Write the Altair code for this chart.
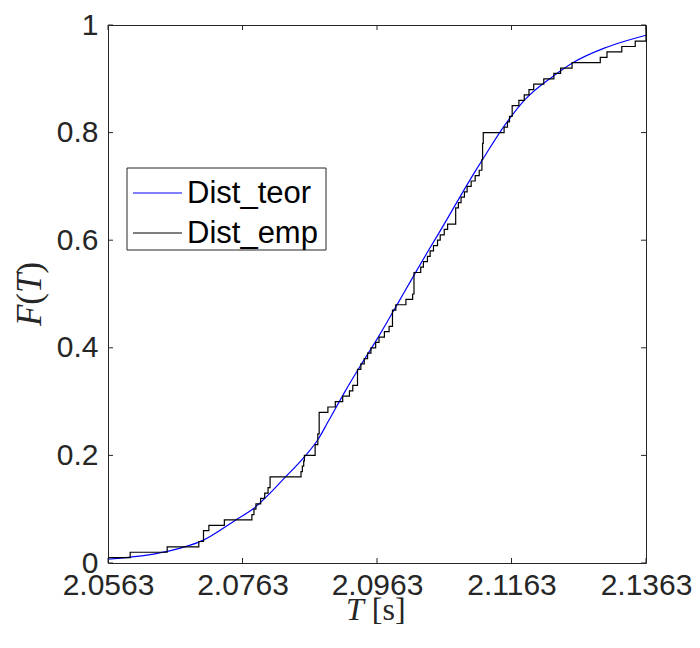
import altair as alt
import pandas as pd

emp_T = [
    2.0563, 2.0596, 2.0651, 2.0698, 2.0705, 2.0705, 2.0713, 2.0736, 2.0777, 2.0780,
    2.0783, 2.0790, 2.0796, 2.0801, 2.0804, 2.0804, 2.0850, 2.0852, 2.0854, 2.0855,
    2.0871, 2.0871, 2.0875, 2.0875, 2.0877, 2.0877, 2.0877, 2.0877, 2.0890, 2.0901,
    2.0912, 2.0922, 2.0927, 2.0934, 2.0934, 2.0934, 2.0939, 2.0944, 2.0949, 2.0954,
    2.0961, 2.0966, 2.0974, 2.0981, 2.0986, 2.0986, 2.0986, 2.0991, 2.1006, 2.1016,
    2.1018, 2.1018, 2.1018, 2.1018, 2.1028, 2.1032, 2.1038, 2.1042, 2.1047, 2.1053,
    2.1057, 2.1063, 2.1068, 2.1080, 2.1080, 2.1080, 2.1084, 2.1088, 2.1093, 2.1097,
    2.1103, 2.1109, 2.1115, 2.1119, 2.1119, 2.1120, 2.1120, 2.1120, 2.1121, 2.1121,
    2.1152, 2.1157, 2.1160, 2.1164, 2.1164, 2.1174, 2.1182, 2.1189, 2.1196, 2.1211,
    2.1226, 2.1236, 2.1253, 2.1295, 2.1305, 2.1327, 2.1347, 2.1363, 2.1363, 2.1363,
]

# Theoretical distribution, points
teor_T = [2.0563, 2.0649, 2.0704, 2.0753, 2.0778, 2.0827, 2.0857, 2.0875, 2.0890,
          2.0916, 2.0939, 2.0964, 2.0991, 2.1013, 2.1041, 2.1053, 2.1109, 2.1120,
          2.1152, 2.1182, 2.1224, 2.1253, 2.1301, 2.1324, 2.1363]
teor_F = [0.007, 0.021, 0.042, 0.080, 0.100, 0.160, 0.200, 0.229, 0.262,
          0.320, 0.368, 0.418, 0.476, 0.524, 0.584, 0.609, 0.728, 0.750,
          0.812, 0.860, 0.904, 0.929, 0.957, 0.967, 0.981]

x_ticks = [2.0563, 2.0763, 2.0963, 2.1163, 2.1363]
y_ticks = [0, 0.2, 0.4, 0.6, 0.8, 1]

series_names = ["Dist_teor", "Dist_emp"]
series_colors = ["#0000ff", "#000000"]

# axis titles, split into italic / upright pieces (LaTeX style)
x_title_parts = ["T", "[s]"]
x_title_italic = [True, False]
y_title_parts = ["F", "(", "T", ")"]
y_title_italic = [True, False, True, False]

n = len(emp_T)
emp_df = pd.DataFrame({"T": emp_T, "F": [(i + 1) / n for i in range(n)], "series": "Dist_emp"})
teor_df = pd.DataFrame({"T": teor_T, "F": teor_F, "series": "Dist_teor"})
xt_df = pd.DataFrame({"T": x_ticks})
yt_df = pd.DataFrame({"F": y_ticks})

W, H = 538, 538
INK = "#262626"
SANS = "Liberation Sans"
SERIF = "Liberation Serif"

x_scale = alt.Scale(domain=[x_ticks[0], x_ticks[-1]], nice=False, zero=False)
y_scale = alt.Scale(domain=[0, 1], nice=False)

x_axis = alt.Axis(values=x_ticks, format=".4f", title=None, labelPadding=7)
y_axis = alt.Axis(values=y_ticks, format="~g", title=None, labelPadding=10)

X = alt.X("T:Q", scale=x_scale, axis=x_axis)
Y = alt.Y("F:Q", scale=y_scale, axis=y_axis)
color = alt.Color("series:N", scale=alt.Scale(domain=series_names, range=series_colors),
                  legend=None)

teor = alt.Chart(teor_df).mark_line(strokeWidth=1.2, interpolate="monotone").encode(
    x=X, y=Y, color=color)
emp = alt.Chart(emp_df).mark_line(strokeWidth=1.2, interpolate="step-after").encode(
    x=X, y=Y, color=color)

tick_len = 5
xb = alt.Chart(xt_df).mark_rule(color=INK, strokeWidth=1).encode(
    x=X, y=alt.value(H), y2=alt.value(H - tick_len))
xtop = alt.Chart(xt_df).mark_rule(color=INK, strokeWidth=1).encode(
    x=X, y=alt.value(0), y2=alt.value(tick_len))
yl = alt.Chart(yt_df).mark_rule(color=INK, strokeWidth=1).encode(
    y=Y, x=alt.value(0), x2=alt.value(tick_len))
yr = alt.Chart(yt_df).mark_rule(color=INK, strokeWidth=1).encode(
    y=Y, x=alt.value(W), x2=alt.value(W - tick_len))

# Legend (drawn as marks, inside the axes, upper left)
LX0, LX1, LY0, LY1 = 19, 218, 143, 225
ROW_Y = [168, 208]
leg_box = alt.Chart(pd.DataFrame({"a": [0]})).mark_rect(
    fill="white", stroke=INK, strokeWidth=1).encode(
    x=alt.value(LX0), x2=alt.value(LX1), y=alt.value(LY0), y2=alt.value(LY1))
legend_layers = [leg_box]
for i, name in enumerate(series_names):
    d = pd.DataFrame({"series": [name]})
    legend_layers.append(alt.Chart(d).mark_rule(strokeWidth=1.2, color=series_colors[i]).encode(
        x=alt.value(25), x2=alt.value(74), y=alt.value(ROW_Y[i])))
    legend_layers.append(alt.Chart(d).mark_text(
        align="left", baseline="middle", font=SANS, fontSize=31, color="#000000").encode(
        x=alt.value(79), y=alt.value(ROW_Y[i] + 1), text="series:N"))

# Axis titles as text marks
TF = 32
title_layers = []
xpos = 238
x_adv = [TF * 0.556 + 8, 0]
for i, part in enumerate(x_title_parts):
    title_layers.append(alt.Chart(pd.DataFrame({"t": [part]})).mark_text(
        align="left", baseline="alphabetic", font=SERIF, fontSize=TF, color=INK,
        fontStyle="italic" if x_title_italic[i] else "normal").encode(
        x=alt.value(xpos), y=alt.value(595), text="t:N"))
    xpos += x_adv[i]

YF = 35
y_adv = [0.611, 0.333, 0.556, 0.333]
ypos = 269 + YF * sum(y_adv) / 2
for i, part in enumerate(y_title_parts):
    title_layers.append(alt.Chart(pd.DataFrame({"t": [part]})).mark_text(
        align="left", baseline="middle", angle=270, font=SERIF, fontSize=YF, color=INK,
        fontStyle="italic" if y_title_italic[i] else "normal").encode(
        x=alt.value(-78), y=alt.value(ypos), text="t:N"))
    ypos -= YF * y_adv[i]

chart = alt.layer(teor, emp, xb, xtop, yl, yr, *legend_layers, *title_layers).properties(
    width=W, height=H,
    autosize=alt.AutoSizeParams(type="none"),
    padding={"left": 100, "top": 17, "right": 46, "bottom": 77},
    background="white",
).configure_view(
    stroke=INK, strokeWidth=1
).configure_axis(
    domain=False, ticks=False, grid=False,
    labelFont=SANS, labelFontSize=30, labelColor=INK,
    labelFlush=False, labelOverlap=False, labelBound=False,
)

chart.save("out.html", embed_options={"renderer": "svg", "actions": False})
